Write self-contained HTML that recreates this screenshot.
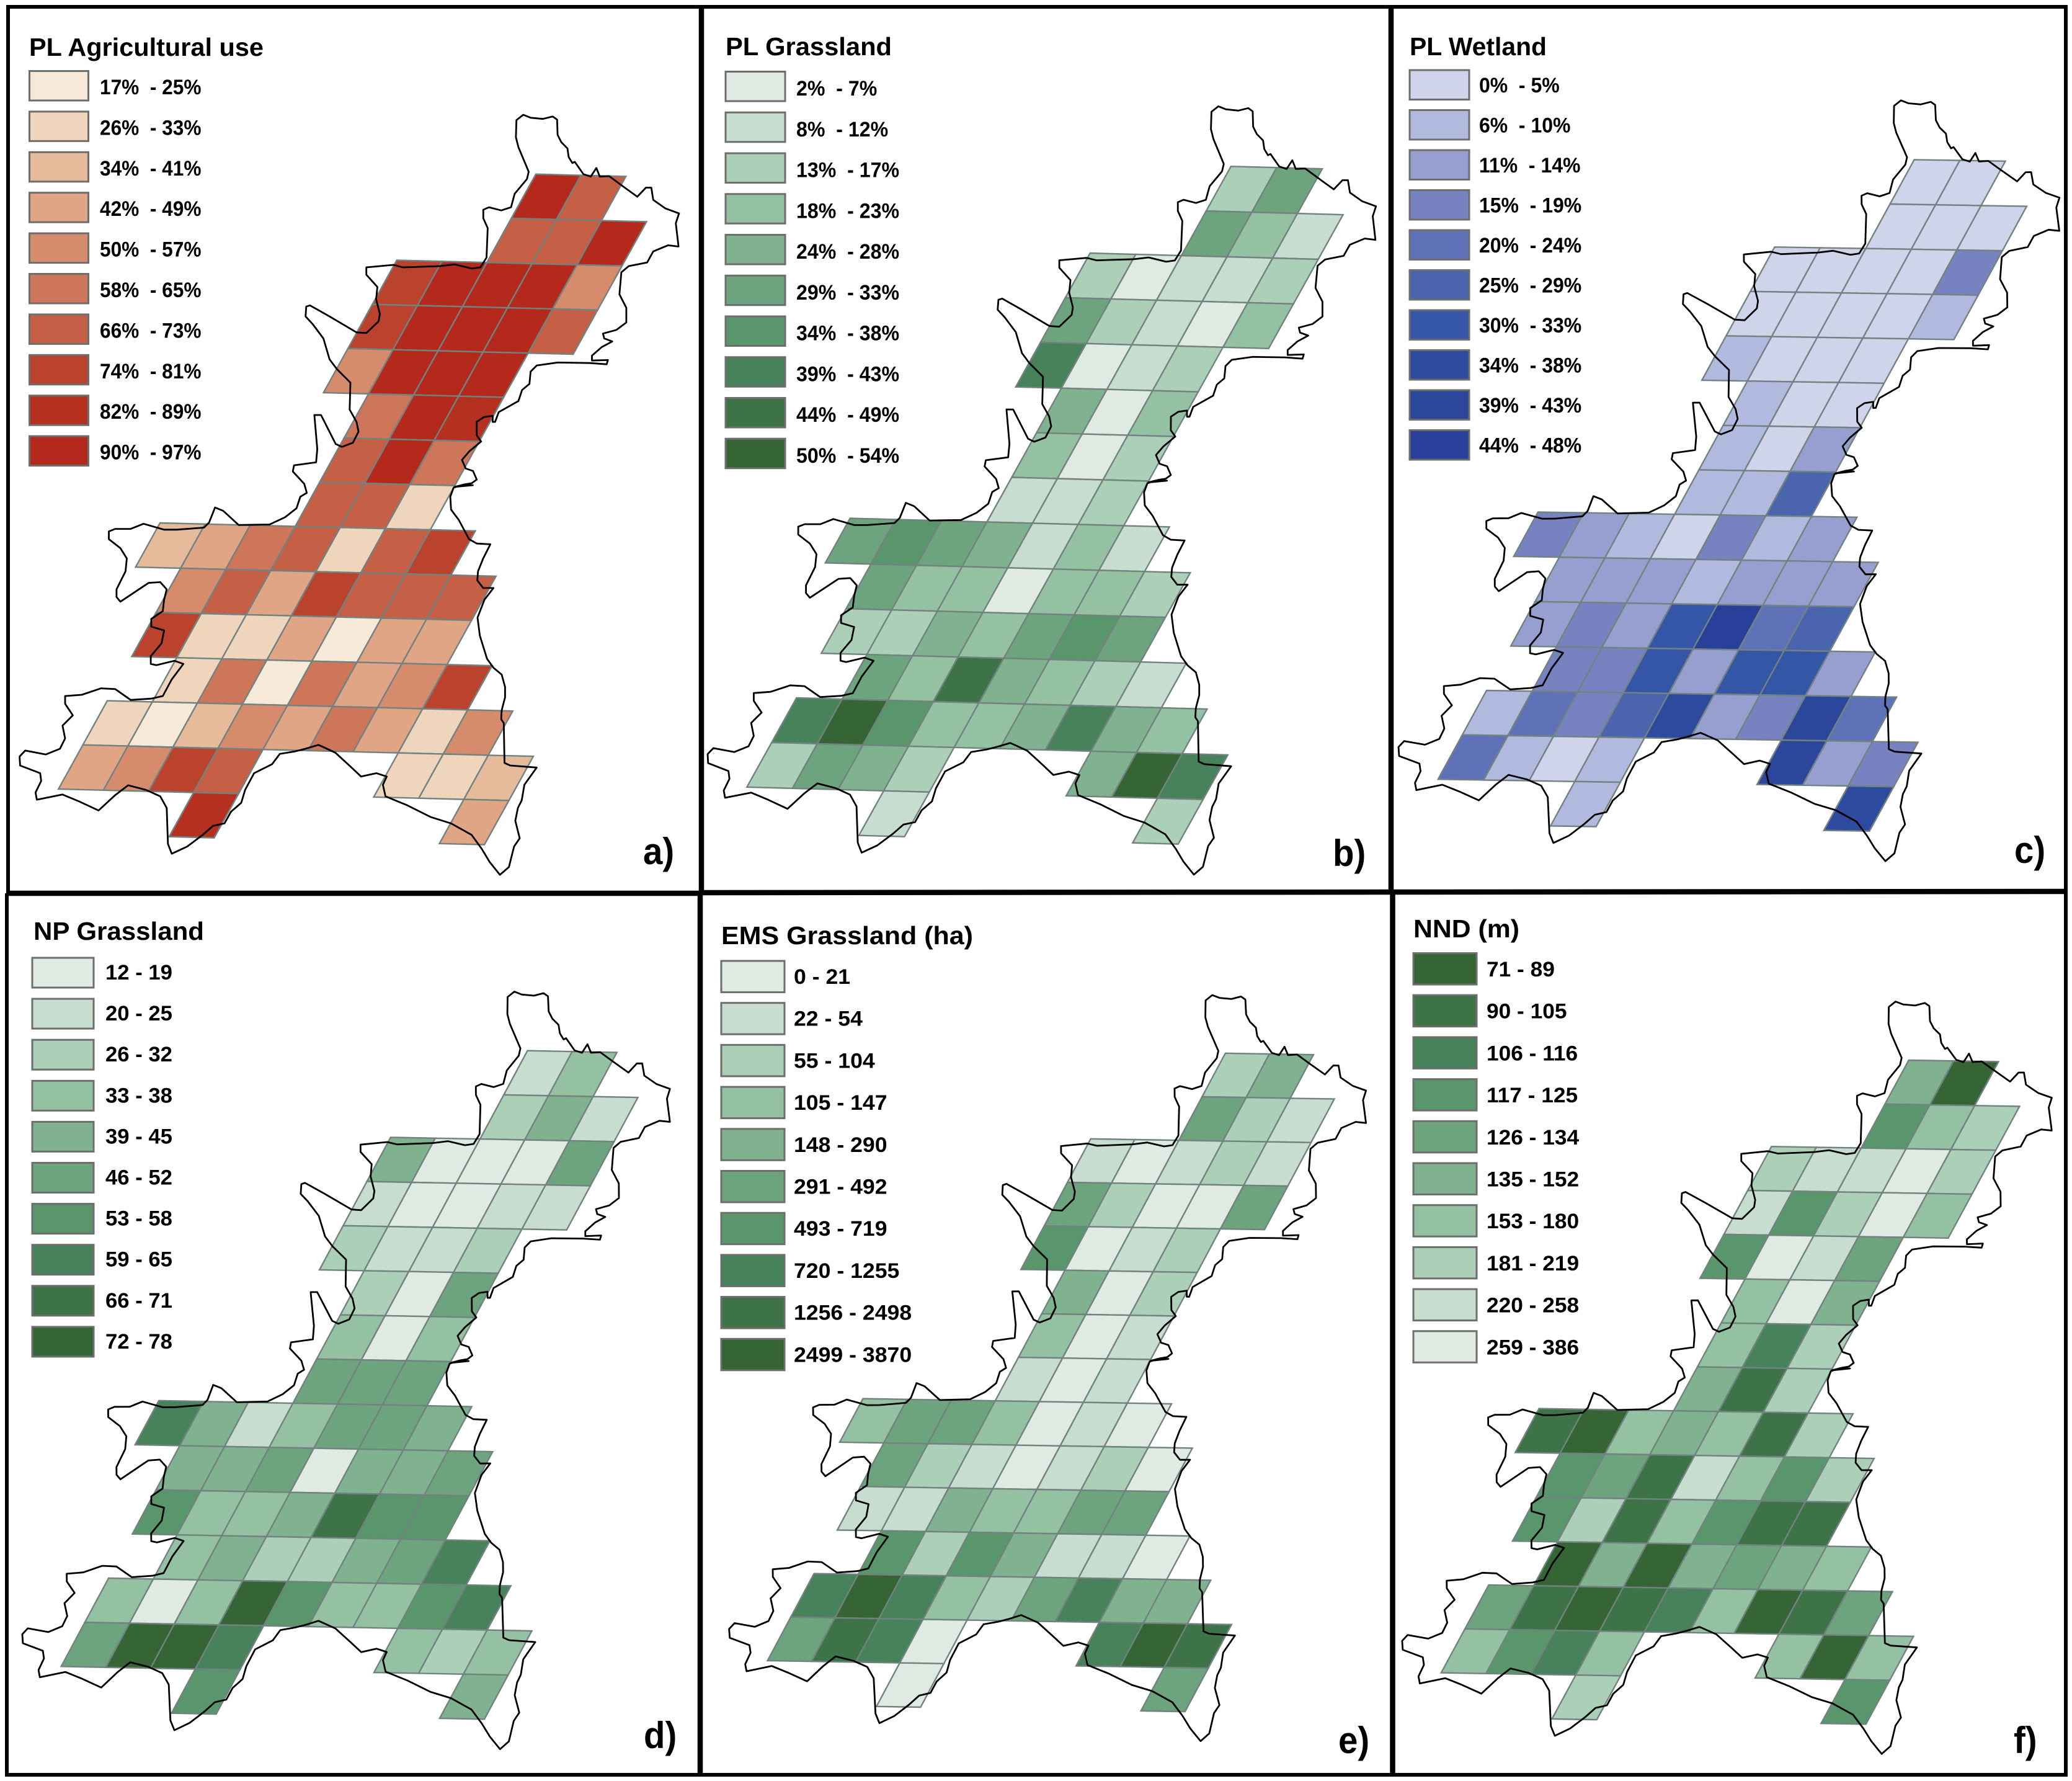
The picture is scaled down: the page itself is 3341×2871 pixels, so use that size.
<!DOCTYPE html>
<html lang="en"><head><meta charset="utf-8"><title>Landscape metrics maps</title>
<style>html,body{margin:0;padding:0;background:#fff}svg{display:block}text{font-family:"Liberation Sans",sans-serif;font-weight:bold;fill:#000}</style>
</head><body>
<svg id="figure" xmlns="http://www.w3.org/2000/svg" width="3341" height="2871" viewBox="0 0 3341 2871"></svg>
<script>
const rowColumns = [[3,4],[3,4,5],[1,2,3,4,5],[1,2,3,4,5],[1,2,3,4],[2,3,4],[2,3,4],[2,3,4],[-1,0,1,2,3,4,5],[0,1,2,3,4,5,6],[0,1,2,3,4,5,6],[1,2,3,4,5,6,7],[0,1,2,3,4,5,6,7,8],[0,1,2,3,7,8,9],[3,9]];

const agriculturalClasses = [[10,7],[7,7,10],[8,10,10,10,5],[8,10,10,10,7],[5,10,10,10],[6,10,9],[7,10,6],[7,7,2],[3,4,6,7,2,7,8],[5,7,4,8,7,7,7],[8,2,2,4,1,4,4],[2,6,1,6,4,5,8],[2,1,3,5,4,6,4,2,5],[4,5,8,7,2,2,3],[9,4]];
const plGrasslandClasses = [[3,6],[6,4,2],[3,1,2,2,3],[6,3,2,1,4],[8,1,2,3],[5,1,4],[4,1,3],[2,2,3],[6,7,6,5,2,4,2],[6,4,4,1,4,4,3],[3,3,5,4,6,7,6],[6,4,9,5,4,3,2],[8,10,7,4,4,5,8,5,4],[3,6,5,3,5,10,8],[2,3]];
const wetlandClasses = [[1,1],[1,1,1],[1,1,1,1,4],[1,1,1,1,2],[2,1,1,1],[2,1,1],[2,1,3],[2,2,6],[4,3,2,1,4,2,3],[3,3,3,2,3,3,3],[3,4,3,7,10,5,6],[4,4,7,3,7,7,3],[2,5,4,6,8,3,4,9,5],[5,2,1,2,9,3,4],[2,8]];
const npGrasslandClasses = [[2,4],[3,5,2],[5,1,1,1,6],[2,1,1,2,2],[3,2,2,3],[3,1,6],[4,1,4],[6,6,6],[8,5,2,4,6,6,5],[5,5,6,1,5,5,6],[7,4,4,5,9,7,7],[4,5,3,3,5,6,8],[4,1,4,10,7,4,4,7,8],[6,10,10,8,4,3,4],[7,5]];
const emsGrasslandClasses = [[3,5],[6,3,2],[2,1,2,3,2],[6,3,1,1,6],[7,1,2,3],[5,1,3],[4,1,2],[2,1,2],[4,6,6,4,1,2,1],[6,3,2,1,2,3,1],[2,2,5,4,4,6,6],[7,3,7,5,2,2,1],[8,10,8,4,3,6,8,5,5],[6,9,8,1,8,10,9],[1,6]];
const nndShadeClasses = [[5,10],[7,4,3],[3,2,2,1,3],[2,7,3,1,4],[7,1,2,6],[4,1,5],[4,8,3],[5,9,3],[9,10,4,5,4,9,3],[7,6,9,2,4,7,3],[7,3,9,4,7,9,9],[10,5,10,5,6,5,4],[6,9,10,9,8,4,10,9,6],[4,7,8,4,4,10,4],[3,7]];

const agriculturalLabels = ["17%  - 25%","26%  - 33%","34%  - 41%","42%  - 49%","50%  - 57%","58%  - 65%","66%  - 73%","74%  - 81%","82%  - 89%","90%  - 97%"];
const plGrasslandLabels = ["2%  - 7%","8%  - 12%","13%  - 17%","18%  - 23%","24%  - 28%","29%  - 33%","34%  - 38%","39%  - 43%","44%  - 49%","50%  - 54%"];
const wetlandLabels = ["0%  - 5%","6%  - 10%","11%  - 14%","15%  - 19%","20%  - 24%","25%  - 29%","30%  - 33%","34%  - 38%","39%  - 43%","44%  - 48%"];
const npGrasslandLabels = ["12 - 19","20 - 25","26 - 32","33 - 38","39 - 45","46 - 52","53 - 58","59 - 65","66 - 71","72 - 78"];
const emsGrasslandLabels = ["0 - 21","22 - 54","55 - 104","105 - 147","148 - 290","291 - 492","493 - 719","720 - 1255","1256 - 2498","2499 - 3870"];
const nndLabels = ["71 - 89","90 - 105","106 - 116","117 - 125","126 - 134","135 - 152","153 - 180","181 - 219","220 - 258","259 - 386"];

const redRamp = ["#f6e9d8","#efd5bc","#e6bb9c","#dfa584","#d68c6c","#cd7659","#c56046","#bb432e","#b63020","#b4291b"];
const greenRamp = ["#dfebe2","#c7ddcf","#abcfb7","#95c1a3","#80b28f","#6da37d","#5a966b","#47825a","#3d7347","#356534"];
const blueRamp = ["#d0d4eb","#b2b9de","#979fd1","#7783c1","#5f72b8","#4b64ae","#3555a6","#2e4a9f","#2c469b","#29409a"];

/* study-area outline, clockwise, traced in sections from the top of the map */
const outlineNorthEast = [[920,38],[950,50],[1000,55],[1040,45],[1058,58],[1060,120],[1075,150],[1100,175],[1105,210],[1120,235],[1130,230],[1165,280],[1195,290],[1218,255],[1232,290],[1270,288],[1320,325],[1385,372],[1420,335],[1442,335],[1450,385],[1500,420],[1555,440],[1542,480],[1553,575],[1510,570],[1450,595],[1425,640],[1350,655],[1320,680],[1312,770],[1340,825],[1340,885],[1300,915],[1245,930],[1250,950],[1283,962],[1240,985],[1200,1020],[1200,1040],[1265,1038],[1260,1055],[1190,1050],[1060,1048],[975,1060],[950,1085],[945,1135],[915,1160],[900,1205],[820,1250],[805,1290],[795,1290],[795,1265],[760,1270],[730,1290],[730,1345],[748,1370],[700,1410],[670,1445],[685,1480],[715,1490],[730,1525],[710,1540],[680,1545],[640,1555]];
const outlineSouthEast = [[585,5],[540,5],[510,15],[497,50],[500,100],[530,140],[570,215],[600,232],[653,235],[625,290],[605,340],[602,375],[625,405],[665,405],[630,450],[603,520],[612,590],[640,680],[665,715],[697,742],[710,790],[710,830],[697,880],[695,915],[705,930],[708,1085],[730,1095],[833,1103],[785,1170],[775,1230],[760,1260],[750,1310],[767,1378],[745,1410],[725,1490],[690,1520],[650,1470],[620,1420],[580,1365],[500,1320],[420,1295],[330,1250],[245,1215],[235,1170],[250,1138],[210,1125],[150,1138],[110,1100],[50,1045],[0,1022]];
const outlineSouthWest = [[1190,1015],[1140,1030],[1100,1040],[1040,1050],[1010,1090],[940,1125],[905,1190],[890,1240],[850,1275],[825,1320],[780,1330],[740,1365],[680,1410],[620,1438],[605,1400],[600,1260],[575,1215],[520,1190],[450,1172],[400,1210],[335,1270],[260,1235],[195,1208],[95,1228],[90,1200],[112,1155],[108,1125],[30,1095],[28,1060],[50,1037],[130,1052],[185,1030],[205,990],[195,940],[235,900],[205,855],[205,825],[270,820],[345,795],[400,798],[460,840],[540,835],[585,825],[620,760],[665,700],[630,688],[560,705],[538,700],[538,670],[580,620],[590,570],[540,555],[540,525],[585,495],[590,450],[600,410],[575,382],[530,385],[420,458],[405,440],[405,410],[440,340],[445,290],[420,250],[375,215],[375,185],[400,175],[460,175],[510,155],[590,178],[640,178],[745,170],[765,150],[788,92],[820,105],[880,160],[1000,158],[1060,130],[1105,95],[1120,50],[1145,35],[1135,0]];
const outlineNorthWest = [[-20,1492],[-15,1467],[75,1455],[80,1400],[68,1262],[95,1262],[155,1380],[180,1392],[225,1375],[248,1330],[240,1290],[212,1240],[215,1130],[160,1075],[130,1035],[105,950],[60,890],[32,860],[35,820],[50,815],[130,860],[240,925],[280,928],[330,880],[335,850],[320,790],[325,740],[280,690],[280,660],[390,650],[430,660],[580,655],[640,648],[710,665],[745,660],[770,620],[775,500],[757,460],[757,425],[780,415],[830,428],[870,415],[885,360],[935,300],[942,270],[900,170],[890,130],[892,60]];

const outlineSections = [
 {points:outlineNorthEast, ox:480, oy:170, k:2.529},
 {points:outlineSouthEast, ox:520, oy:780, k:2.412},
 {points:outlineSouthWest, ox:20, oy:780, k:2.412},
 {points:outlineNorthWest, ox:480, oy:170, k:2.529}
];

const panels = [
 {id:"a",title:"PL Agricultural use",titleX:47,titleY:90,titleW:378,classes:agriculturalClasses,labels:agriculturalLabels,ramp:redRamp,reverse:false,swX:47.5,swY:114.5,swW:95,swH:47.5,dy:65.4,textX:161,textY:152,sx:0.93,tag:"a)",tagX:1037,tagY:1393,O:[173,1129.6],A:[72.64,1.84],B:[39.42,-71.2]},
 {id:"b",title:"PL Grassland",titleX:1170,titleY:89,titleW:268,classes:plGrasslandClasses,labels:plGrasslandLabels,ramp:greenRamp,reverse:false,swX:1170,swY:115.5,swW:96,swH:47.5,dy:65.75,textX:1284,textY:154,sx:0.945,tag:"b)",tagX:2149,tagY:1396,O:[1284.3,1125],A:[73.55,2],B:[40,-71.9]},
 {id:"c",title:"PL Wetland",titleX:2273,titleY:89,titleW:221,classes:wetlandClasses,labels:wetlandLabels,ramp:blueRamp,reverse:false,swX:2273,swY:113,swW:96,swH:47.5,dy:64.5,textX:2385,textY:149,sx:0.94,tag:"c)",tagX:3248,tagY:1391,O:[2397,1113],A:[73.47,1.2],B:[39.1,-71.6]},
 {id:"d",title:"NP Grassland",titleX:54,titleY:1515,titleW:275,classes:npGrasslandClasses,labels:npGrasslandLabels,ramp:greenRamp,reverse:false,swX:52,swY:1544,swW:99,swH:48,dy:66.1,textX:170,textY:1579,sx:1.02,tag:"d)",tagX:1038,tagY:2818,O:[175.1,2544],A:[72.07,1.38],B:[38.27,-71.2]},
 {id:"e",title:"EMS Grassland (ha)",titleX:1163,titleY:1522,titleW:406,classes:emsGrasslandClasses,labels:emsGrasslandLabels,ramp:greenRamp,reverse:false,swX:1163,swY:1549,swW:102,swH:50.5,dy:67.7,textX:1280,textY:1586,sx:1.048,tag:"e)",tagX:2158,tagY:2826,O:[1312.6,2536.6],A:[71.07,1.2],B:[37.5,-70.2]},
 {id:"f",title:"NND (m)",titleX:2279,titleY:1511,titleW:171,classes:nndShadeClasses,labels:nndLabels,ramp:greenRamp,reverse:true,swX:2279,swY:1536.5,swW:102,swH:50.5,dy:67.7,textX:2397,textY:1574,sx:1.038,tag:"f)",tagX:3247,tagY:2826,O:[2400.5,2555],A:[72.33,1.2],B:[38.36,-70.8]}
];

const svg = document.getElementById('figure');
const NS = 'http://www.w3.org/2000/svg';
function make(tag, attrs, parent) {
  const el = document.createElementNS(NS, tag);
  for (const k in attrs) el.setAttribute(k, attrs[k]);
  parent.appendChild(el);
  return el;
}
/* lattice of panel a, used to carry the outline to every panel */
const baseO = [173,1129.6], baseA = [72.64,1.84], baseB = [39.42,-71.2];
const det = baseA[0]*baseB[1] - baseA[1]*baseB[0];
function toLattice(p) {
  const dx = p[0]-baseO[0], dy = p[1]-baseO[1];
  return [(dx*baseB[1]-dy*baseB[0])/det, (baseA[0]*dy-baseA[1]*dx)/det];
}
function project(panel, u, v) {
  return [panel.O[0]+panel.A[0]*u+panel.B[0]*v, panel.O[1]+panel.A[1]*u+panel.B[1]*v];
}
function pts(list) { return list.map(p => p[0].toFixed(1)+','+p[1].toFixed(1)).join(' '); }
const outlineLattice = [];
outlineSections.forEach(s => s.points.forEach(p => outlineLattice.push(toLattice([s.ox+p[0]/s.k, s.oy+p[1]/s.k]))));

panels.forEach(panel => {
  const g = make('g', {}, svg);
  
  

  const title = make('text', {x:panel.titleX, y:panel.titleY, 'font-size':41, textLength:panel.titleW, lengthAdjust:'spacingAndGlyphs'}, g);
  
  
  title.textContent = panel.title;

  panel.labels.forEach((label, n) => {
    const shade = panel.reverse ? panel.ramp[9-n] : panel.ramp[n];
    const y = panel.swY + n*panel.dy;
    const sw = make('rect', {x:panel.swX, y:y, width:panel.swW, height:panel.swH, fill:shade, stroke:'#6e6e6c', 'stroke-width':3}, g);
    
    
    const t = make('text', {transform:'translate('+panel.textX+','+(panel.textY+n*panel.dy)+') scale('+panel.sx+',1)', 'font-size':34, 'xml:space':'preserve'}, g);
    
    
    t.style.whiteSpace = 'pre';
    t.textContent = label;
  });

  const cells = make('g', {}, g);
  
  
  rowColumns.forEach((cols, r) => {
    cols.forEach((c, n) => {
      const v = 12 - r;
      const cls = panel.classes[r][n];
      const poly = make('polygon', {points:pts([project(panel,c,v),project(panel,c+1,v),project(panel,c+1,v-1),project(panel,c,v-1)]), fill:panel.ramp[cls-1], stroke:'#728280', 'stroke-width':2.4}, cells);
      
      
    });
  });

  const outline = make('polygon', {points:pts(outlineLattice.map(q => project(panel,q[0],q[1]))), fill:'none', stroke:'#000', 'stroke-width':2.8, 'stroke-linejoin':'round'}, g);
  
  

  const tag = make('text', {transform:'translate('+panel.tagX+','+panel.tagY+') scale(0.94,1)', 'font-size':60}, g);
  
  
  tag.textContent = panel.tag;
});

const frames = [[13,11,13,1440,6],[1131,11,1131,1440,8.5],[2243,11,2243,1438,8.5],[3331,11,3331,1437,6],[10,11,3334,11,6],[10,1440,1129,1440,8.5],[1129,1439,2245,1438,8.5],[2245,1438,3334,1437,8.5],[11,1440,11,2861,6],[1129,1440,1129,2861,8.5],[2245.5,1438,2245.5,2861,8.5],[3331,1437,3331,2861,6],[8,2861,3334,2861,6]];
frames.forEach(f => {
  const line = make('line', {x1:f[0], y1:f[1], x2:f[2], y2:f[3], stroke:'#000', 'stroke-width':f[4]}, svg);
  
  
});
</script>
</body></html>
